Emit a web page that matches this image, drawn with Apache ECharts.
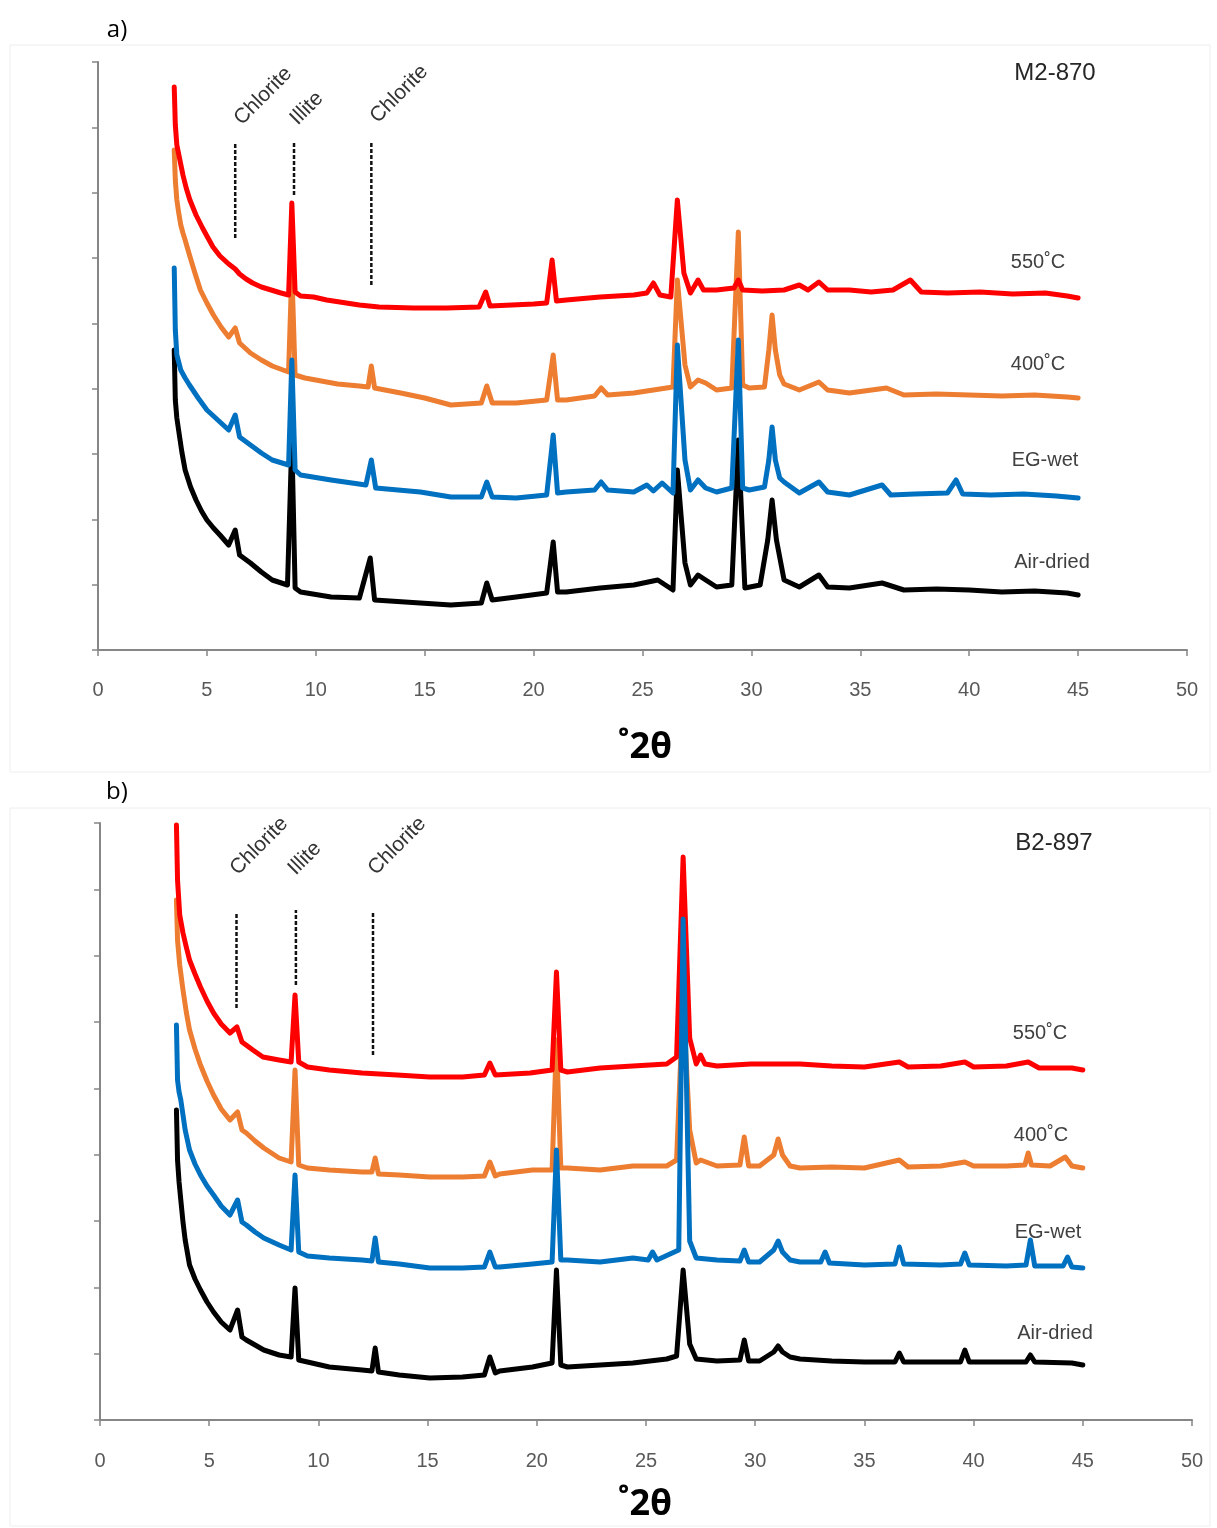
<!DOCTYPE html>
<html><head><meta charset="utf-8">
<script src="https://cdn.jsdelivr.net/npm/echarts@6/dist/echarts.min.js"></script>
<style>html,body{margin:0;padding:0;background:#fff}#c{width:1217px;height:1528px}</style>
</head><body><div id="c"></div>
<script>
// ---------- DATA (x = °2θ, y = intensity, arbitrary units) ----------
const sampleA = 'M2-870';
const sampleB = 'B2-897';
const treatments = ['550˚C','400˚C','EG-wet','Air-dried'];
const mineralNames = ['Chlorite','Illite','Chlorite'];

// Panel a (M2-870)
const red550A = [[3.5,563],[3.55,525],[3.62,505],[3.76,490],[3.9,475],[4.05,462],[4.22,450],[4.5,435],[4.8,422],[5.0,414],[5.28,403],[5.6,394],[6.0,386],[6.3,381],[6.5,376],[6.8,371],[7.1,367],[7.5,363],[8.1,359],[8.4,357],[8.75,355],[8.9,447],[9.05,358],[9.3,354],[9.9,353],[10.5,350],[11.4,347],[12.0,345],[12.9,343],[14.5,342],[16.0,342],[17.5,343],[17.8,358],[18.0,344],[19.0,345],[20.0,346],[20.6,347],[20.85,390],[21.05,349],[21.5,350],[23.05,353],[24.6,355],[25.2,357],[25.5,367],[25.8,355],[26.3,353],[26.6,450],[26.9,377],[27.2,357],[27.55,370],[27.8,360],[28.4,360],[29.2,362],[29.4,370],[29.6,360],[30.5,359],[31.5,360],[32.2,365],[32.6,360],[33.1,368],[33.5,360],[34.5,360],[35.5,358],[36.5,360],[37.3,370],[37.8,358],[39.0,357],[40.5,358],[42.0,356],[43.5,357],[44.5,354],[45.0,352]];
const orange400A = [[3.5,500],[3.55,470],[3.62,450],[3.7,438],[3.8,425],[3.9,417],[4.0,410],[4.2,395],[4.45,377],[4.7,360],[5.0,347],[5.3,335],[5.65,323],[6.0,313],[6.3,322],[6.5,307],[7.0,297],[7.5,290],[8.0,284],[8.5,280],[8.75,278],[8.9,380],[9.05,275],[9.5,272],[10.0,270],[11.0,266],[12.0,264],[12.4,263],[12.55,284],[12.7,262],[13.9,257],[15.0,252],[16.2,245],[17.6,247],[17.85,264],[18.1,247],[19.2,247],[20.6,250],[20.9,295],[21.1,250],[21.5,250],[22.8,254],[23.1,262],[23.4,255],[24.6,257],[26.1,262],[26.4,263],[26.6,370],[26.95,285],[27.2,263],[27.55,270],[27.9,267],[28.4,260],[29.1,262],[29.4,418],[29.6,265],[29.9,262],[30.6,263],[30.8,300],[30.95,335],[31.1,300],[31.3,275],[31.5,266],[32.2,260],[33.1,268],[33.5,260],[34.5,257],[36.2,262],[37.0,255],[38.5,256],[40.0,255],[41.5,254],[43.0,255],[44.5,253],[45.0,252]];
const blueEGA = [[3.5,382],[3.55,320],[3.62,295],[3.8,280],[4.0,272],[4.2,265],[4.6,252],[5.0,240],[5.5,230],[6.0,220],[6.3,235],[6.5,213],[7.0,205],[7.5,197],[8.0,190],[8.75,185],[8.9,290],[9.05,180],[9.3,175],[10.7,170],[12.3,165],[12.55,190],[12.75,162],[14.8,158],[16.2,153],[17.6,153],[17.85,168],[18.1,153],[19.2,152],[20.6,155],[20.9,215],[21.1,157],[21.5,158],[22.8,160],[23.1,168],[23.4,160],[24.6,158],[25.2,165],[25.5,159],[25.9,167],[26.4,157],[26.6,305],[26.95,190],[27.2,160],[27.55,170],[27.9,162],[28.4,158],[29.1,162],[29.4,310],[29.6,162],[29.9,160],[30.6,163],[30.8,190],[30.95,223],[31.1,190],[31.3,172],[31.5,168],[32.2,157],[33.1,168],[33.5,158],[34.5,155],[36.0,165],[36.4,155],[37.5,156],[39.0,157],[39.4,170],[39.7,156],[41.0,155],[42.5,156],[44.0,154],[45.0,152]];
const blackAirA = [[3.5,300],[3.55,250],[3.62,232],[3.7,220],[3.85,198],[4.0,180],[4.25,163],[4.5,150],[4.75,139],[5.0,130],[5.3,122],[5.6,115],[6.0,105],[6.3,120],[6.5,95],[7.0,87],[7.5,78],[8.0,70],[8.7,65],[8.9,210],[9.05,62],[9.3,58],[10.7,53],[12.0,52],[12.5,92],[12.7,50],[14.8,47],[16.2,45],[17.6,47],[17.85,67],[18.1,50],[19.2,53],[20.6,57],[20.9,108],[21.1,58],[21.5,58],[23.05,62],[24.6,65],[25.7,70],[26.4,60],[26.6,180],[26.95,87],[27.2,65],[27.55,75],[27.9,70],[28.4,63],[29.1,65],[29.4,210],[29.7,62],[30.4,65],[30.75,110],[30.95,150],[31.15,110],[31.5,70],[32.2,63],[33.1,75],[33.5,63],[34.5,62],[36.0,67],[37.0,60],[38.5,61],[40.0,60],[41.5,58],[43.0,59],[44.5,57],[45.0,55]];

// Panel b (B2-897)
const red550B = [[3.5,595],[3.55,540],[3.65,505],[3.8,487],[3.95,473],[4.1,460],[4.35,446],[4.6,433],[4.9,419],[5.2,407],[5.55,396],[5.95,387],[6.27,393],[6.5,378],[7.0,370],[7.46,363],[8.2,360],[8.75,358],[8.93,425],[9.1,358],[9.5,353],[10.5,350],[12.0,347],[13.6,345],[15.1,343],[16.6,343],[17.6,345],[17.85,357],[18.1,345],[19.7,347],[20.7,350],[20.9,448],[21.1,350],[21.4,348],[22.9,352],[24.4,354],[25.95,356],[26.4,363],[26.7,563],[27.0,382],[27.3,356],[27.5,365],[27.7,356],[28.25,354],[29.8,356],[31.3,356],[32.05,356],[33.5,354],[35.0,353],[36.6,358],[37.0,353],[38.5,354],[39.6,358],[40.0,353],[41.5,354],[42.5,358],[43.0,352],[44.5,352],[45.0,350]];
const orange400B = [[3.5,520],[3.55,480],[3.65,455],[3.8,430],[3.95,408],[4.1,390],[4.35,371],[4.6,355],[4.9,339],[5.2,325],[5.55,311],[5.95,300],[6.3,308],[6.5,290],[6.7,287],[7.1,279],[7.5,272],[8.2,262],[8.75,258],[8.93,350],[9.1,255],[9.5,252],[10.5,250],[12.0,248],[12.45,248],[12.6,262],[12.75,246],[13.7,245],[15.1,243],[16.6,243],[17.6,244],[17.85,258],[18.1,244],[18.3,246],[19.8,250],[20.7,250],[20.9,380],[21.1,252],[21.4,252],[22.9,250],[24.4,254],[25.95,254],[26.4,260],[26.7,420],[27.0,290],[27.3,257],[27.5,260],[28.25,254],[29.3,255],[29.5,283],[29.7,254],[30.2,254],[30.85,265],[31.05,281],[31.25,265],[31.6,254],[32.05,252],[33.5,253],[35.0,252],[36.6,260],[37.0,253],[38.5,254],[39.6,258],[40.0,254],[41.5,254],[42.35,255],[42.5,267],[42.65,255],[43.5,254],[44.2,263],[44.5,254],[45.0,252]];
const blueEGB = [[3.5,395],[3.55,340],[3.62,328],[3.7,320],[3.8,305],[3.9,290],[4.1,270],[4.35,256],[4.6,245],[4.9,234],[5.2,225],[5.55,214],[5.95,205],[6.3,220],[6.5,198],[6.7,195],[7.1,188],[7.5,182],[8.2,175],[8.75,170],[8.93,245],[9.1,168],[9.5,164],[10.5,162],[12.0,160],[12.45,159],[12.6,182],[12.75,158],[13.7,156],[15.1,152],[16.6,152],[17.6,153],[17.85,168],[18.1,153],[18.3,153],[19.8,156],[20.7,158],[20.9,270],[21.1,160],[21.4,160],[22.9,158],[24.4,162],[25.1,160],[25.3,168],[25.5,160],[26.3,168],[26.5,170],[26.7,501],[27.0,179],[27.3,162],[28.25,160],[29.3,159],[29.5,170],[29.7,158],[30.2,158],[30.85,170],[31.05,179],[31.25,168],[31.6,160],[32.05,158],[33.0,158],[33.2,168],[33.4,157],[35.0,155],[36.4,156],[36.6,173],[36.8,156],[38.5,155],[39.4,156],[39.6,167],[39.8,155],[41.5,154],[42.4,155],[42.6,180],[42.8,154],[44.1,154],[44.3,163],[44.5,153],[45.0,152]];
const blackAirB = [[3.5,310],[3.55,260],[3.62,238],[3.7,220],[3.8,198],[3.9,180],[4.1,155],[4.35,141],[4.6,130],[4.9,118],[5.2,108],[5.55,98],[5.95,90],[6.3,110],[6.5,83],[6.7,80],[7.1,75],[7.5,70],[8.2,65],[8.75,63],[8.93,132],[9.1,60],[9.5,58],[10.5,53],[12.0,50],[12.45,49],[12.6,72],[12.75,48],[13.7,45],[15.1,42],[16.6,43],[17.6,45],[17.85,63],[18.1,47],[18.3,49],[19.8,53],[20.7,57],[20.9,150],[21.1,55],[21.4,53],[22.9,55],[24.4,57],[25.95,61],[26.4,64],[26.7,150],[27.0,76],[27.3,61],[28.25,59],[29.3,60],[29.5,80],[29.7,59],[30.2,59],[30.85,68],[31.05,74],[31.25,68],[31.6,63],[32.05,61],[33.5,59],[35.0,58],[36.4,58],[36.6,67],[36.8,58],[38.5,58],[39.4,58],[39.6,70],[39.8,58],[41.5,58],[42.4,58],[42.6,65],[42.8,58],[44.5,57],[45.0,55]];

// Reference (dashed) marker lines: [°2θ, lower intensity, upper intensity]
const markersA = [[6.3,412,508],[9.0,455,508],[12.55,365,508]];
const markersB = [[6.25,412,508],[8.97,435,510],[12.5,365,508]];

// ---------- CHART ----------
const COLORS = {red:'#ff0000', orange:'#ed7d31', blue:'#0070c0', black:'#000000'};
const chart = echarts.init(document.getElementById('c'), null, {renderer:'canvas'});

function trace(data, color, gi){
  return {type:'line', data, xAxisIndex:gi, yAxisIndex:gi, showSymbol:false, symbol:'none',
    silent:true, animation:false, lineStyle:{color, width:5, join:'round', cap:'round'}};
}
function dashes(markers, gi){
  return markers.map(m => ({type:'line', data:[[m[0],m[1]],[m[0],m[2]]], xAxisIndex:gi, yAxisIndex:gi,
    showSymbol:false, symbol:'none', silent:true, animation:false, z:5,
    lineStyle:{color:'#111', width:2.5, type:[4,2]}}));
}
function xAx(gi, margin){
  return {type:'value', gridIndex:gi, min:0, max:50, interval:5,
    axisLine:{lineStyle:{color:'#868686', width:2}},
    axisTick:{show:true, length:6, lineStyle:{color:'#868686', width:1.5}},
    axisLabel:{color:'#595959', fontSize:20, margin, fontFamily:'"Liberation Sans Narrow","Liberation Sans",sans-serif'},
    splitLine:{show:false}};
}
function yAx(gi, max){
  return {type:'value', gridIndex:gi, min:0, max, interval:max/9,
    axisLine:{show:true, lineStyle:{color:'#868686', width:2}},
    axisTick:{show:true, length:6, lineStyle:{color:'#868686', width:1.5}},
    axisLabel:{show:false}, splitLine:{show:false}};
}
const txt = (text, x, y, size, opts={}) => ({type:'text', x, y, silent:true, z:50, rotation:opts.rot||0,
  style:{text, fill:opts.color||'#333', fontSize:size, fontWeight:opts.bold?'bold':'normal',
    fontFamily:opts.font||'"Liberation Sans",Arial,sans-serif',
    textAlign:opts.align||'center', textVerticalAlign:opts.valign||'middle'}});

const rot = Math.PI/4;
const rl = {color:'#333', rot, align:'left', valign:'bottom'};
const graphic = [
  {type:'rect', shape:{x:10, y:45, width:1200, height:727}, style:{fill:'none', stroke:'#eeeeee', lineWidth:1}, silent:true, z:0},
  {type:'rect', shape:{x:10, y:808, width:1200, height:718}, style:{fill:'none', stroke:'#eeeeee', lineWidth:1}, silent:true, z:0},
  txt('a)', 117, 30, 24, {color:'#000', font:'"Open Sans","Noto Sans",sans-serif'}),
  txt('b)', 117, 792, 24, {color:'#000', font:'"Open Sans","Noto Sans",sans-serif'}),
  txt(sampleA, 1055, 73, 24, {color:'#262626'}),
  txt(sampleB, 1054, 843, 24, {color:'#262626'}),
  txt(treatments[0], 1038, 262, 20, {color:'#404040'}),
  txt(treatments[1], 1038, 364, 20, {color:'#404040'}),
  txt(treatments[2], 1045, 460, 20, {color:'#404040'}),
  txt(treatments[3], 1052, 562, 20, {color:'#404040'}),
  txt(treatments[0], 1040, 1033, 20, {color:'#404040'}),
  txt(treatments[1], 1041, 1135, 20, {color:'#404040'}),
  txt(treatments[2], 1048, 1232, 20, {color:'#404040'}),
  txt(treatments[3], 1055, 1333, 20, {color:'#404040'}),
  txt(mineralNames[0], 245, 129, 21, rl),
  txt(mineralNames[1], 301, 129, 21, rl),
  txt(mineralNames[2], 381, 127, 21, rl),
  txt(mineralNames[0], 241, 879, 21, rl),
  txt(mineralNames[1], 299, 879, 21, rl),
  txt(mineralNames[2], 379, 879, 21, rl),
  txt('˚2θ', 645, 748, 36, {color:'#000', bold:true, font:'"Noto Sans","Open Sans",sans-serif'}),
  txt('˚2θ', 645, 1505, 36, {color:'#000', bold:true, font:'"Noto Sans","Open Sans",sans-serif'})
];

chart.setOption({
  backgroundColor:'#ffffff',
  animation:false,
  grid:[
    {left:98, top:62, width:1089, height:588},
    {left:100, top:823, width:1092, height:597}
  ],
  xAxis:[xAx(0, 30), xAx(1, 31)],
  yAxis:[yAx(0, 588), yAx(1, 597)],
  series:[
    trace(blackAirA, COLORS.black, 0),
    trace(orange400A, COLORS.orange, 0),
    trace(red550A, COLORS.red, 0),
    trace(blueEGA, COLORS.blue, 0),
    trace(blackAirB, COLORS.black, 1),
    trace(orange400B, COLORS.orange, 1),
    trace(red550B, COLORS.red, 1),
    trace(blueEGB, COLORS.blue, 1),
    ...dashes(markersA, 0),
    ...dashes(markersB, 1)
  ],
  graphic
});
</script></body></html>
